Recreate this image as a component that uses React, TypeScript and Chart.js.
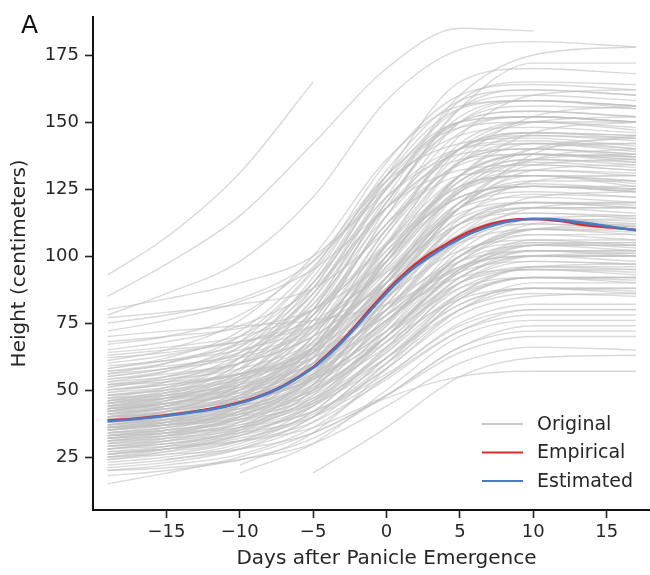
import React, { useEffect, useRef } from "react";
import { Chart, registerables } from "chart.js";

Chart.register(...registerables);

// Days at which each original (gray) curve is sampled
const GRID_DAYS = [-19, -15, -10, -5, 0, 5, 10, 17];

// Original individual plant height curves (cm), one row per plant
const ORIGINAL_SERIES: (number | null)[][] = [
  [15, 19, 25, 34, 47, 55, 57, 57],
  [20, 22, 26, 36, 55, 75, 82, 82],
  [21, 23, 28, 40, 62, 85, 92, 91],
  [24, 26, 31, 44, 70, 95, 102, 100],
  [25, 27, 31, 42, 65, 88, 95, 95],
  [27, 29, 33, 45, 72, 100, 108, 106],
  [28, 30, 35, 48, 78, 105, 112, 110],
  [26, 28, 32, 40, 58, 78, 85, 86],
  [29, 31, 36, 50, 82, 112, 120, 118],
  [30, 32, 36, 46, 68, 90, 96, 95],
  [31, 33, 38, 52, 85, 118, 126, 124],
  [32, 34, 39, 51, 76, 98, 104, 102],
  [33, 35, 40, 55, 90, 125, 135, 133],
  [34, 36, 40, 49, 70, 88, 92, 90],
  [34, 36, 42, 58, 92, 120, 127, 125],
  [35, 37, 41, 52, 75, 100, 110, 108],
  [35, 38, 44, 62, 100, 135, 145, 143],
  [36, 38, 42, 54, 80, 106, 114, 112],
  [36, 38, 43, 55, 82, 110, 118, 118],
  [37, 39, 44, 57, 84, 108, 114, 111],
  [37, 39, 43, 51, 68, 84, 88, 86],
  [38, 40, 46, 63, 98, 128, 136, 134],
  [38, 40, 45, 56, 78, 96, 100, 98],
  [39, 41, 46, 60, 90, 118, 126, 125],
  [39, 42, 48, 66, 104, 140, 150, 150],
  [40, 42, 47, 58, 80, 100, 105, 103],
  [40, 43, 50, 68, 100, 124, 130, 128],
  [41, 43, 48, 60, 86, 112, 120, 120],
  [41, 44, 50, 65, 94, 116, 120, 118],
  [42, 44, 49, 60, 78, 92, 95, 93],
  [42, 45, 52, 70, 108, 142, 150, 148],
  [43, 45, 50, 62, 88, 115, 123, 122],
  [43, 46, 53, 72, 110, 135, 140, 138],
  [44, 46, 51, 62, 82, 98, 102, 101],
  [44, 47, 54, 74, 115, 150, 158, 156],
  [45, 47, 52, 64, 90, 118, 126, 126],
  [45, 48, 55, 72, 102, 122, 126, 124],
  [46, 49, 56, 76, 118, 155, 162, 160],
  [47, 49, 54, 66, 92, 114, 120, 119],
  [48, 51, 58, 78, 112, 140, 146, 145],
  [49, 51, 56, 67, 88, 105, 110, 109],
  [50, 53, 60, 80, 120, 150, 156, 155],
  [51, 54, 60, 74, 100, 125, 132, 131],
  [52, 55, 62, 82, 122, 158, 165, 164],
  [53, 55, 60, 70, 90, 108, 112, 111],
  [54, 57, 64, 82, 115, 140, 145, 144],
  [55, 58, 66, 86, 126, 150, 152, 150],
  [56, 58, 62, 72, 95, 120, 128, 128],
  [57, 60, 68, 88, 130, 165, 170, 168],
  [58, 61, 67, 80, 105, 130, 138, 137],
  [60, 63, 70, 90, 128, 148, 150, 147],
  [62, 64, 68, 76, 94, 112, 118, 118],
  [70, 72, 74, 76, 82, 95, 102, 102],
  [93, 107, 131, 165, null, null, null, null],
  [85, 97, 115, 142, 170, 185, 184, null],
  [80, 84, 90, 100, 125, 160, 175, 178],
  [78, 86, 98, 122, 158, 177, 180, 178],
  [77, 79, 82, 88, 110, 145, 160, 162],
  [72, 76, 83, 95, 118, 140, 150, 152],
  [65, 68, 74, 88, 120, 155, 172, 172],
  [63, 65, 68, 74, 90, 118, 138, 145],
  [null, null, 19, 30, 50, 70, 76, 76],
  [null, null, null, 19, 36, 55, 62, 63],
  [30, 31, 34, 40, 55, 72, 78, 78],
  [33, 35, 38, 46, 62, 80, 86, 85],
  [36, 39, 46, 64, 100, 130, 138, 137],
  [40, 42, 46, 54, 72, 90, 95, 94],
  [28, 30, 34, 44, 66, 92, 100, 100],
  [46, 48, 53, 66, 96, 128, 136, 135],
  [48, 50, 55, 65, 85, 102, 106, 104],
  [32, 34, 40, 56, 88, 112, 116, 114],
  [38, 41, 48, 68, 108, 135, 140, 138],
  [44, 47, 55, 80, 125, 145, 148, 146],
  [35, 37, 42, 54, 84, 118, 130, 130],
  [26, 28, 33, 46, 74, 104, 114, 113],
  [50, 52, 56, 64, 80, 96, 100, 100],
  [22, 24, 29, 40, 62, 82, 88, 87],
  [42, 45, 51, 66, 98, 130, 142, 142],
  [39, 41, 45, 55, 76, 94, 98, 97],
  [55, 58, 64, 78, 104, 122, 126, 125],
  [31, 33, 37, 47, 70, 95, 105, 105],
  [37, 40, 47, 66, 102, 126, 130, 126],
  [18, 20, 24, 32, 48, 66, 72, 72],
  [23, 25, 30, 42, 66, 90, 98, 97],
  [24, 27, 34, 50, 80, 108, 116, 115],
  [25, 28, 35, 52, 84, 112, 118, 116],
  [26, 29, 36, 55, 92, 124, 130, 128],
  [27, 28, 31, 38, 54, 72, 80, 80],
  [28, 31, 38, 56, 90, 118, 124, 122],
  [29, 32, 40, 60, 98, 130, 138, 136],
  [29, 30, 33, 41, 60, 84, 92, 92],
  [30, 33, 41, 62, 100, 128, 134, 132],
  [31, 34, 42, 60, 92, 118, 122, 120],
  [32, 35, 44, 66, 105, 138, 146, 145],
  [32, 33, 36, 44, 62, 82, 88, 88],
  [33, 36, 44, 64, 98, 122, 126, 124],
  [33, 34, 37, 45, 64, 90, 100, 101],
  [34, 37, 45, 66, 104, 135, 142, 140],
  [34, 35, 39, 48, 68, 92, 102, 102],
  [35, 38, 47, 70, 110, 140, 146, 144],
  [35, 37, 41, 50, 70, 95, 106, 106],
  [36, 39, 48, 70, 104, 126, 130, 127],
  [36, 37, 40, 47, 64, 86, 96, 97],
  [37, 40, 50, 74, 115, 146, 152, 150],
  [37, 38, 41, 49, 70, 98, 110, 111],
  [38, 42, 52, 76, 112, 134, 138, 135],
  [38, 39, 42, 50, 70, 94, 104, 104],
  [39, 42, 52, 78, 120, 152, 158, 156],
  [39, 40, 44, 53, 75, 102, 114, 115],
  [40, 44, 55, 80, 118, 140, 143, 140],
  [40, 41, 44, 52, 72, 98, 108, 108],
  [41, 44, 54, 78, 112, 130, 132, 130],
  [41, 43, 47, 56, 76, 100, 112, 114],
  [42, 46, 57, 84, 125, 150, 154, 152],
  [42, 43, 46, 54, 74, 100, 110, 110],
  [43, 47, 58, 84, 118, 136, 138, 136],
  [43, 45, 49, 58, 80, 108, 122, 124],
  [44, 48, 60, 88, 128, 155, 160, 158],
  [44, 45, 48, 55, 72, 94, 104, 105],
  [45, 49, 60, 86, 122, 140, 142, 139],
  [45, 47, 51, 60, 84, 114, 128, 130],
  [46, 50, 62, 90, 130, 155, 158, 155],
  [47, 48, 52, 60, 80, 106, 118, 120],
  [47, 51, 62, 86, 118, 132, 134, 132],
  [48, 50, 54, 64, 88, 118, 132, 134],
  [49, 53, 64, 92, 132, 158, 162, 160],
  [50, 52, 56, 66, 90, 120, 136, 140],
  [51, 55, 66, 90, 122, 138, 140, 137],
  [52, 54, 58, 68, 92, 124, 140, 144],
  [53, 57, 68, 94, 130, 150, 152, 150],
  [54, 56, 60, 70, 92, 120, 134, 136],
  [56, 60, 70, 95, 135, 160, 164, 162],
  [57, 59, 63, 73, 98, 130, 146, 150],
  [58, 62, 72, 96, 128, 142, 144, 141],
  [59, 61, 65, 74, 96, 126, 140, 142],
  [61, 65, 76, 100, 136, 156, 158, 156],
  [64, 66, 70, 80, 104, 136, 152, 156],
  [67, 70, 78, 98, 130, 150, 154, 152],
  [68, 70, 73, 80, 98, 124, 136, 138],
  [75, 78, 84, 98, 126, 148, 152, 150],
  [28, 29, 31, 36, 48, 64, 70, 70],
  [25, 26, 28, 34, 48, 66, 74, 74],
  [33, 34, 36, 42, 56, 74, 80, 80],
  [36, 37, 39, 45, 60, 80, 88, 88],
  [40, 41, 43, 50, 66, 86, 92, 92],
  [null, null, 22, 34, 58, 84, 92, 92],
  [null, 24, 28, 38, 60, 86, 96, 96],
  [20, 21, 24, 30, 44, 60, 66, 65],
  [46, 47, 50, 58, 76, 96, 104, 104],
  [31, 32, 35, 42, 58, 80, 90, 90],
  [52, 53, 56, 62, 78, 100, 110, 112],
  [43, 44, 47, 54, 70, 92, 100, 100],
];

// Mean curves
const MEAN_DAYS = [-19, -17, -15, -13, -11, -9, -7, -5, -4, -3, -2, -1, 0, 1, 2, 3, 4, 5, 6, 7, 8, 9, 10, 11, 12, 13, 14, 15, 16, 17];
const EMPIRICAL = [38.6, 39.4, 40.6, 42.1, 44.0, 47.0, 51.7, 58.6, 63.3, 68.6, 74.6, 80.9, 86.9, 92.4, 97.1, 101.0, 104.3, 107.3, 109.9, 111.8, 113.1, 113.7, 113.8, 113.6, 113.0, 112.0, 111.3, 110.8, 110.3, 109.7];
const ESTIMATED = [38.4, 39.2, 40.4, 41.9, 43.8, 46.8, 51.5, 58.3, 62.9, 68.1, 74.0, 80.2, 86.2, 91.6, 96.2, 100.0, 103.4, 106.4, 109.0, 111.0, 112.5, 113.4, 113.8, 113.8, 113.4, 112.7, 112.0, 111.2, 110.4, 109.6];

const X_TICKS = [-15, -10, -5, 0, 5, 10, 15];
const Y_TICKS = [25, 50, 75, 100, 125, 150, 175];

const SERIES_LABELS = ["Original", "Empirical", "Estimated"];
const PANEL_LABEL = "A";

const FONT = "'DejaVu Sans', sans-serif";
const GRAY = "rgba(192,192,192,0.6)";
const GRAY_LEGEND = "#c8c8c8";
const RED = "#dd2a2a";
const BLUE = "#4a7cc7";
const TEXT = "#262626";

const toPoints = (xs: number[], ys: (number | null)[]) =>
  xs
    .map((x, i) => ({ x, y: ys[i] }))
    .filter((p) => p.y !== null && p.y !== undefined) as { x: number; y: number }[];

export default function App() {
  const canvasRef = useRef<HTMLCanvasElement | null>(null);

  useEffect(() => {
    document.body.style.margin = "0";
    const canvas = canvasRef.current;
    if (!canvas) return;

    const grayDatasets = ORIGINAL_SERIES.map((row, i) => ({
      label: i === 0 ? SERIES_LABELS[0] : "",
      data: toPoints(GRID_DAYS, row),
      borderColor: GRAY,
      borderWidth: 1.4,
      pointRadius: 0,
      fill: false,
      cubicInterpolationMode: "monotone" as const,
      order: 3,
    }));

    const insidePlugin = {
      id: "insideLegend",
      afterDraw(chart: any) {
        const { ctx, chartArea } = chart;
        ctx.save();
        ctx.fillStyle = "#111";
        ctx.font = `25px ${FONT}`;
        ctx.textAlign = "left";
        ctx.textBaseline = "alphabetic";
        ctx.fillText(PANEL_LABEL, 21, 33);
        const colors = [GRAY_LEGEND, RED, BLUE];
        const x0 = chartArea.right - 198;
        const y0 = chartArea.bottom - 86;
        ctx.font = `19px ${FONT}`;
        ctx.textBaseline = "middle";
        SERIES_LABELS.forEach((lab, i) => {
          const y = y0 + i * 28.5;
          ctx.strokeStyle = colors[i];
          ctx.lineWidth = 2.2;
          ctx.beginPath();
          ctx.moveTo(x0, y);
          ctx.lineTo(x0 + 41, y);
          ctx.stroke();
          ctx.fillStyle = TEXT;
          ctx.fillText(lab, x0 + 55, y + 1);
        });
        ctx.restore();
      },
    };

    const chart = new Chart(canvas, {
      type: "line",
      data: {
        datasets: [
          {
            label: SERIES_LABELS[2],
            data: toPoints(MEAN_DAYS, ESTIMATED),
            borderColor: BLUE,
            borderWidth: 2.6,
            pointRadius: 0,
            fill: false,
            cubicInterpolationMode: "monotone",
            order: 1,
          },
          {
            label: SERIES_LABELS[1],
            data: toPoints(MEAN_DAYS, EMPIRICAL),
            borderColor: RED,
            borderWidth: 2.6,
            pointRadius: 0,
            fill: false,
            cubicInterpolationMode: "monotone",
            order: 2,
          },
          ...grayDatasets,
        ] as any,
      },
      options: {
        responsive: false,
        animation: false,
        layout: { padding: { left: 0, right: 20, top: 7, bottom: 0 } },
        plugins: {
          legend: { display: false },
          tooltip: { enabled: false },
        },
        scales: {
          x: {
            type: "linear",
            min: -20,
            max: 20,
            afterBuildTicks: (scale: any) => {
              scale.ticks = X_TICKS.map((v) => ({ value: v }));
            },
            afterFit: (scale: any) => {
              scale.height = 65;
            },
            ticks: {
              color: TEXT,
              font: { family: FONT, size: 18 },
              padding: 4,
              maxRotation: 0,
              autoSkip: false,
              callback: (v: any) => (Number(v) < 0 ? "\u2212" + Math.abs(Number(v)) : String(v)),
            },
            grid: {
              display: true,
              drawOnChartArea: false,
              drawTicks: true,
              tickLength: 8,
              tickWidth: 1.6,
              tickColor: "#222",
            },
            border: { display: true, color: "#111", width: 2 },
            title: {
              display: true,
              text: "Days after Panicle Emergence",
              color: TEXT,
              font: { family: FONT, size: 20 },
              padding: { top: 0, bottom: 4 },
            },
          },
          y: {
            type: "linear",
            min: 5.24,
            max: 189.27,
            afterBuildTicks: (scale: any) => {
              scale.ticks = Y_TICKS.map((v) => ({ value: v }));
            },
            afterFit: (scale: any) => {
              scale.width = 93;
            },
            ticks: {
              color: TEXT,
              font: { family: FONT, size: 18 },
              padding: 6,
              autoSkip: false,
            },
            grid: {
              display: true,
              drawOnChartArea: false,
              drawTicks: true,
              tickLength: 8,
              tickWidth: 1.6,
              tickColor: "#222",
            },
            border: { display: true, color: "#111", width: 2 },
            title: {
              display: true,
              text: "Height (centimeters)",
              color: TEXT,
              font: { family: FONT, size: 20 },
              padding: { top: 8, bottom: 0 },
            },
          },
        },
      },
      plugins: [insidePlugin],
    });

    return () => {
      chart.destroy();
    };
  }, []);

  return (
    <div style={{ width: 650, height: 575, overflow: "hidden", position: "relative", background: "#fff" }}>
      <canvas ref={canvasRef} width={700} height={575} style={{ display: "block", width: 700, height: 575 }} />
    </div>
  );
}
